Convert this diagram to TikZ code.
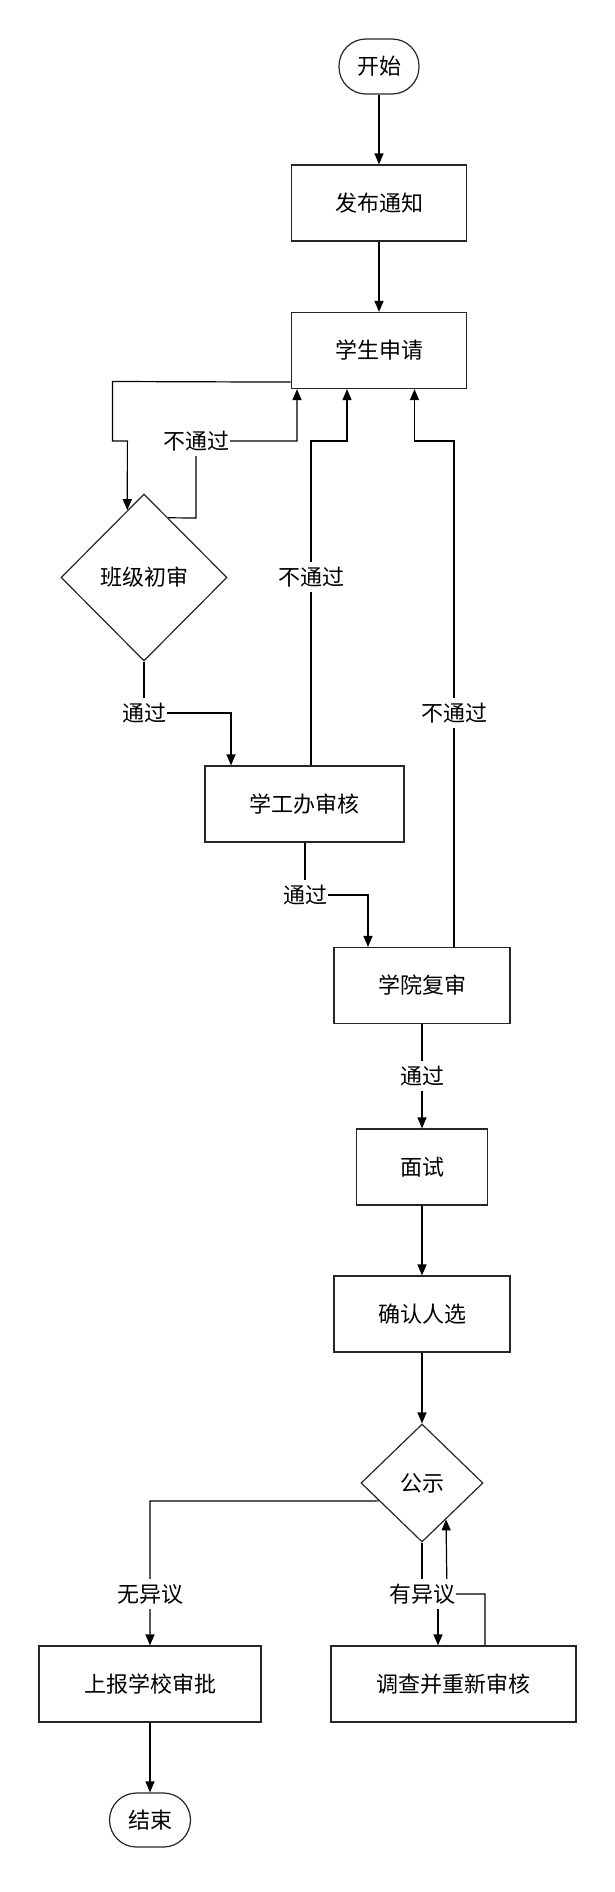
\documentclass[tikz,border=0pt]{standalone}
\usepackage{fontspec}
\newfontfamily\cjk{Noto Sans CJK SC}
\usetikzlibrary{shapes.geometric,arrows.meta,calc}
\begin{document}
\begin{tikzpicture}[x=1pt,y=-1pt,
  txt/.style={font=\cjk\fontsize{22}{22}\selectfont},
  base/.style={txt, draw=black!85, line width=1.2pt, inner sep=0pt},
  box/.style={base, rectangle, minimum height=76pt},
  term/.style={base, rectangle, rounded corners=27pt, minimum width=80pt, minimum height=55pt},
  dia/.style={base, diamond},
  lbl/.style={txt, fill=white, inner xsep=1pt, inner ysep=5pt},
  ln/.style={line width=1.2pt, draw=black},
  arr/.style={ln, -{Triangle[length=11pt,width=9pt]}}
]
\useasboundingbox (0,0) rectangle (614,1892);

% nodes
\node[term] (start) at (379,66.5) {开始};
\node[box, minimum width=175pt] (notice) at (379,203) {发布通知};
\node[box, minimum width=175pt] (apply) at (379,350.5) {学生申请};
\node[dia, minimum width=166pt, minimum height=167pt] (ban) at (144,577.5) {班级初审};
\node[box, minimum width=199pt] (xgb) at (304.5,804) {学工办审核};
\node[box, minimum width=176pt] (xy) at (422,985.5) {学院复审};
\node[box, minimum width=131pt] (ms) at (422,1167) {面试};
\node[box, minimum width=176pt] (qr) at (422,1314) {确认人选};
\node[dia, minimum width=122pt, minimum height=118pt] (gs) at (422,1483) {公示};
\node[box, minimum width=222pt] (sb) at (150,1684) {上报学校审批};
\node[box, minimum width=245pt] (dc) at (453.5,1684) {调查并重新审核};
\node[term, minimum width=81pt, minimum height=54pt] (end) at (150,1820) {结束};

% points on diamond edges
\path (ban.north) -- (ban.west) coordinate[pos=0.2] (banin);
\path (ban.north) -- (ban.east) coordinate[pos=0.29] (banout);
\path (gs.west) -- (gs.south) coordinate[pos=0.3] (gsout);
\path (gs.south) -- (gs.east) coordinate[pos=0.39] (gsin);

% connectors
\draw[arr] (start) -- (notice);
\draw[arr] (notice) -- (apply);
\draw[arr] ([yshift=7pt]apply.south west) -- (112.5,381.5) -- (112.5,441) -- (127.4,441) -- (banin);
\draw[arr] (banout) -- (196,518) -- (196,441) -- (297,441) -- ([xshift=-82pt]apply.south);
\draw[arr] ([xshift=6.5pt]xgb.north) -- (311,441) -- (347,441) -- ([xshift=-32pt]apply.south);
\draw[arr] ([xshift=32pt]xy.north) -- (454,441) -- (414.5,441) -- ([xshift=35.5pt]apply.south);
\draw[arr] (ban.south) -- (144,713) -- (231,713) -- ([xshift=-73.5pt]xgb.north);
\draw[arr] ([xshift=0.5pt]xgb.south) -- (305,895) -- (368,895) -- ([xshift=-54pt]xy.north);
\draw[arr] (xy) -- (ms);
\draw[arr] (ms) -- (qr);
\draw[arr] (qr) -- (gs);
\draw[arr] (gsout) -- (150,1501) -- (sb.north);
\draw[arr] (sb) -- (end);
\draw[arr] (gs.south) -- (422,1594) -- (438,1594) -- ([xshift=-15.5pt]dc.north);
\draw[arr] ([xshift=31.5pt]dc.north) -- (485,1594) -- (447,1594) -- (gsin);

% labels
\node[lbl] (l1) at (196,441) {不通过};
\node[lbl] (l2) at (144,713) {通过};
\node[lbl] (l3) at (311,577) {不通过};
\node[lbl] (l4) at (454,713) {不通过};
\node[lbl] (l5) at (305,895) {通过};
\node[lbl] (l6) at (422,1076) {通过};
\node[lbl] (l7) at (150,1594) {无异议};
\node[lbl] (l8) at (422,1594) {有异议};
\end{tikzpicture}
\end{document}
